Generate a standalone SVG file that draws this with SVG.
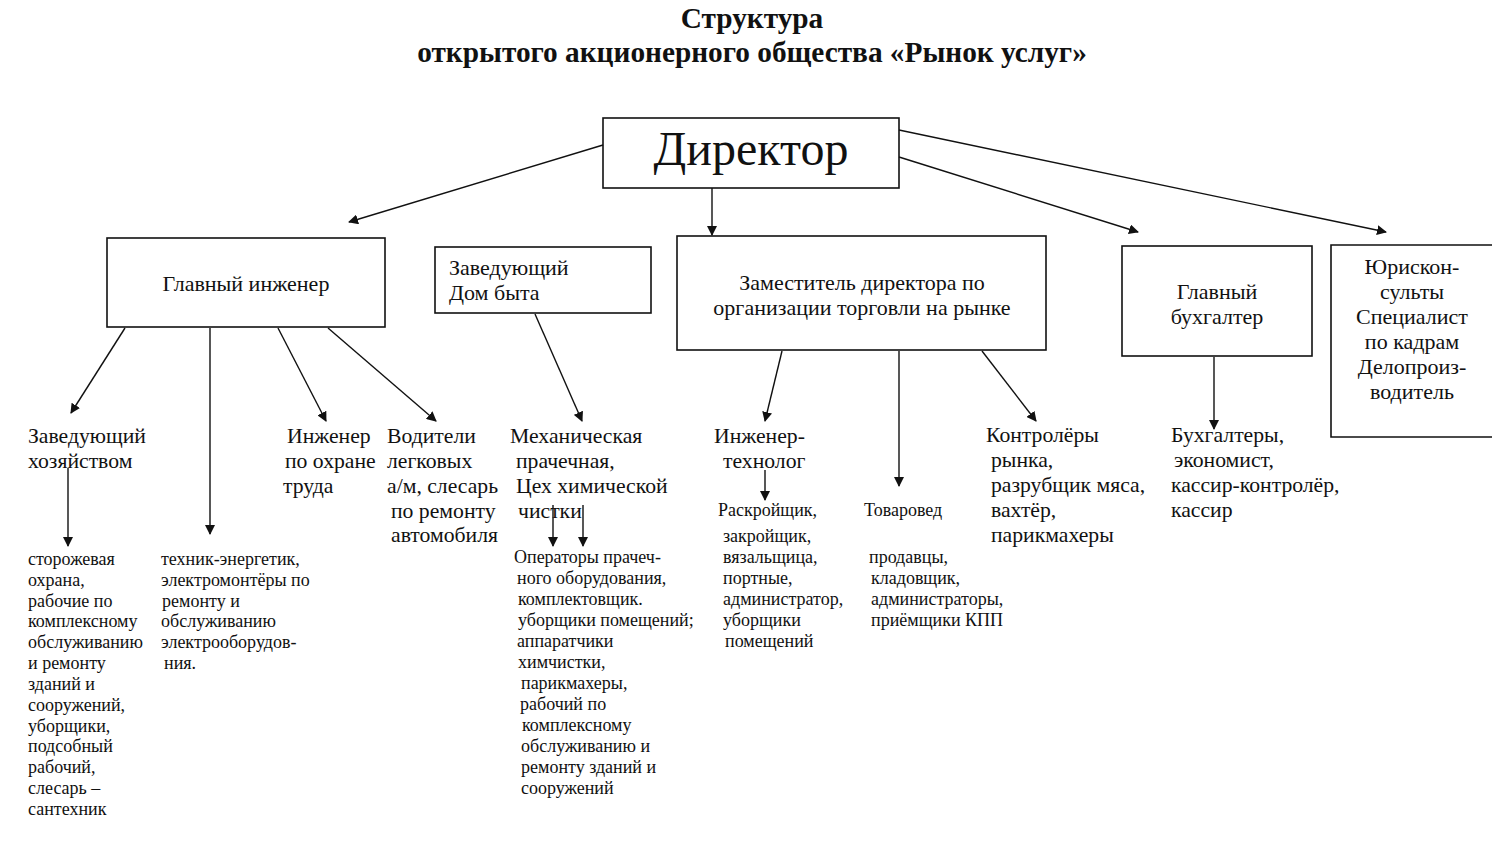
<svg xmlns="http://www.w3.org/2000/svg" width="1500" height="841" viewBox="0 0 1500 841">
<style>
text{font-family:"Liberation Serif","Times New Roman",serif;fill:#111}
.t{font-weight:bold;font-size:29.3px;text-anchor:middle}
.b{font-size:22px}
.c{text-anchor:middle}
.m{font-size:21.7px}
.s{font-size:18px}
rect{fill:#fff;stroke:#111;stroke-width:1.6}
.ln line{stroke:#111;stroke-width:1.4;marker-end:url(#ah)}
</style>
<defs>
<marker id="ah" viewBox="0 0 10 10" refX="9" refY="5" markerWidth="10" markerHeight="10" markerUnits="userSpaceOnUse" orient="auto">
<path d="M0,0 L10,5 L0,10 z" fill="#111"/>
</marker>
</defs>
<rect x="0" y="0" width="1500" height="841" style="stroke:none"/>
<g id="title">
<text class="t" x="752" y="28">Структура</text>
<text class="t" x="752" y="62">открытого акционерного общества  «Рынок услуг»</text>
</g>
<g id="director">
<rect x="603" y="118" width="296" height="70"/>
<text x="751" y="165" class="c" style="font-size:48px">Директор</text>
</g>
<g id="chief-engineer">
<rect x="107" y="238" width="278" height="89"/>
<text x="246" y="291" class="b c">Главный инженер</text>
</g>
<g id="dom-byta">
<rect x="435" y="247" width="216" height="66"/>
<text x="449" y="275" class="b">Заведующий</text>
<text x="449" y="300" class="b">Дом быта</text>
</g>
<g id="deputy">
<rect x="677" y="236" width="369" height="114"/>
<text x="862" y="290" class="b c">Заместитель директора по</text>
<text x="862" y="315" class="b c">организации торговли на рынке</text>
</g>
<g id="chief-accountant">
<rect x="1122" y="246" width="190" height="110"/>
<text x="1217" y="299" class="b c">Главный</text>
<text x="1217" y="324" class="b c">бухгалтер</text>
</g>
<g id="legal">
<path d="M1492,245 H1331 V437 H1492" fill="#fff" stroke="#111" stroke-width="1.6"/>
<text class="b c" x="1412" y="274">Юрискон-</text>
<text class="b c" x="1412" y="299">сульты</text>
<text class="b c" x="1412" y="324">Специалист</text>
<text class="b c" x="1412" y="349">по кадрам</text>
<text class="b c" x="1412" y="374">Делопроиз-</text>
<text class="b c" x="1412" y="399">водитель</text>
</g>
<g id="zav-hoz">
<text class="m" x="28" y="443">Заведующий</text>
<text class="m" x="28" y="468">хозяйством</text>
</g>
<g id="ing-ohrana">
<text class="m" x="287" y="443">Инженер</text>
<text class="m" x="285" y="468">по охране</text>
<text class="m" x="283" y="493">труда</text>
</g>
<g id="voditeli">
<text class="m" x="387" y="443">Водители</text>
<text class="m" x="387" y="468">легковых</text>
<text class="m" x="387" y="493">а/м, слесарь</text>
<text class="m" x="391" y="518">по ремонту</text>
<text class="m" x="391" y="542">автомобиля</text>
</g>
<g id="prachechnaya">
<text class="m" x="510" y="443">Механическая</text>
<text class="m" x="516" y="468">прачечная,</text>
<text class="m" x="516" y="493">Цех химической</text>
<text class="m" x="518" y="518">чистки</text>
</g>
<g id="ing-tech">
<text class="m" x="714" y="443">Инженер-</text>
<text class="m" x="723" y="468">технолог</text>
</g>
<g id="kontrolery">
<text class="m" x="986" y="442">Контролёры</text>
<text class="m" x="991" y="467">рынка,</text>
<text class="m" x="991" y="492">разрубщик мяса,</text>
<text class="m" x="991" y="517">вахтёр,</text>
<text class="m" x="991" y="542">парикмахеры</text>
</g>
<g id="buhgaltery">
<text class="m" x="1171" y="442">Бухгалтеры,</text>
<text class="m" x="1174" y="467">экономист,</text>
<text class="m" x="1171" y="492">кассир-контролёр,</text>
<text class="m" x="1171" y="517">кассир</text>
</g>
<g id="tovaroved">
<text class="s" x="864" y="516">Товаровед</text>
</g>
<g id="storozh">
<text class="s" x="28" y="565">сторожевая</text>
<text class="s" x="28" y="586">охрана,</text>
<text class="s" x="28" y="607">рабочие по</text>
<text class="s" x="28" y="627">комплексному</text>
<text class="s" x="28" y="648">обслуживанию</text>
<text class="s" x="28" y="669">и ремонту</text>
<text class="s" x="28" y="690">зданий и</text>
<text class="s" x="28" y="711">сооружений,</text>
<text class="s" x="28" y="732">уборщики,</text>
<text class="s" x="28" y="752">подсобный</text>
<text class="s" x="28" y="773">рабочий,</text>
<text class="s" x="28" y="794">слесарь –</text>
<text class="s" x="28" y="815">сантехник</text>
</g>
<g id="tehnik">
<text class="s" x="161" y="565">техник-энергетик,</text>
<text class="s" x="161" y="586">электромонтёры по</text>
<text class="s" x="162" y="607">ремонту и</text>
<text class="s" x="161" y="627">обслуживанию</text>
<text class="s" x="161" y="648">электрооборудов-</text>
<text class="s" x="164" y="669">ния.</text>
</g>
<g id="operatory">
<text class="s" x="514" y="563">Операторы прачеч-</text>
<text class="s" x="517" y="584">ного оборудования,</text>
<text class="s" x="518" y="605">комплектовщик.</text>
<text class="s" x="518" y="626">уборщики помещений;</text>
<text class="s" x="517" y="647">аппаратчики</text>
<text class="s" x="518" y="668">химчистки,</text>
<text class="s" x="521" y="689">парикмахеры,</text>
<text class="s" x="520" y="710">рабочий  по</text>
<text class="s" x="522" y="731">комплексному</text>
<text class="s" x="521" y="752">обслуживанию и</text>
<text class="s" x="521" y="773">ремонту зданий и</text>
<text class="s" x="521" y="794">сооружений</text>
</g>
<g id="raskroy">
<text class="s" x="718" y="516">Раскройщик,</text>
<text class="s" x="723" y="542">закройщик,</text>
<text class="s" x="723" y="563">вязальщица,</text>
<text class="s" x="723" y="584">портные,</text>
<text class="s" x="723" y="605">администратор,</text>
<text class="s" x="723" y="626">уборщики</text>
<text class="s" x="725" y="647">помещений</text>
</g>
<g id="prodavcy">
<text class="s" x="869" y="563">продавцы,</text>
<text class="s" x="871" y="584">кладовщик,</text>
<text class="s" x="871" y="605">администраторы,</text>
<text class="s" x="871" y="626">приёмщики КПП</text>
</g>
<g id="connectors" class="ln">
<line x1="603" y1="145" x2="349" y2="222"/>
<line x1="712" y1="188" x2="712" y2="235"/>
<line x1="899" y1="157" x2="1138" y2="232"/>
<line x1="899" y1="130" x2="1386" y2="232"/>
<line x1="125" y1="328" x2="71" y2="413"/>
<line x1="210" y1="328" x2="210" y2="534"/>
<line x1="278" y1="328" x2="326" y2="421"/>
<line x1="328" y1="328" x2="436" y2="421"/>
<line x1="535" y1="314" x2="582" y2="421"/>
<line x1="782" y1="351" x2="765" y2="421"/>
<line x1="899" y1="351" x2="899" y2="486"/>
<line x1="982" y1="351" x2="1036" y2="421"/>
<line x1="1214" y1="357" x2="1214" y2="429"/>
<line x1="68" y1="468" x2="68" y2="546"/>
<line x1="765" y1="470" x2="765" y2="500"/>
<line x1="553" y1="505" x2="553" y2="546"/>
<line x1="583" y1="505" x2="583" y2="546"/>
</g>
</svg>
